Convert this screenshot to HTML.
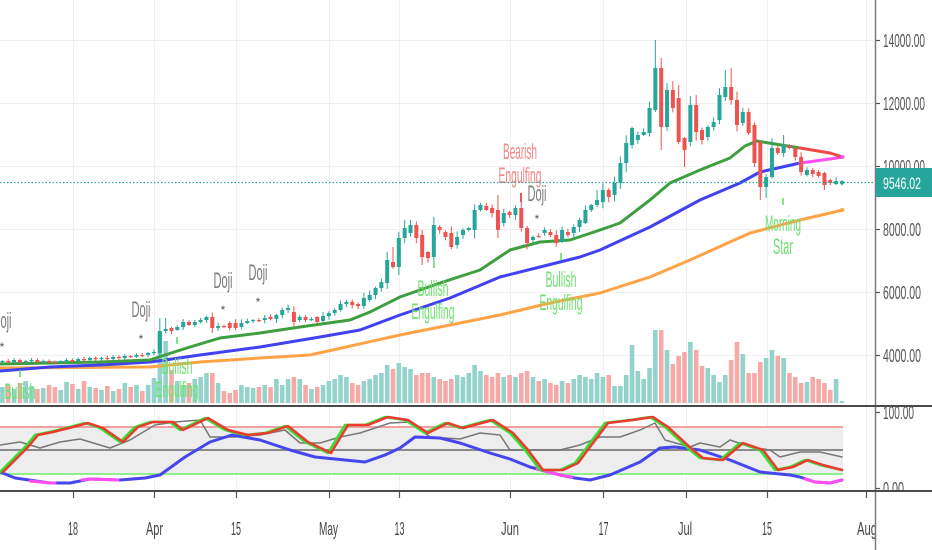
<!DOCTYPE html>
<html>
<head>
<meta charset="utf-8">
<style>
  html,body{margin:0;padding:0;background:#fff;}
  svg{display:block;}
  text{font-family:"Liberation Sans", Arial, sans-serif;}
</style>
</head>
<body>
<svg id="chart" xmlns="http://www.w3.org/2000/svg" width="932" height="550" viewBox="0 0 932 550">
  <defs>
    <clipPath id="cmain"><rect x="0" y="0" width="875" height="405"/></clipPath>
    <clipPath id="cind"><rect x="0" y="407" width="875" height="83"/></clipPath>
    <clipPath id="ciax"><rect x="876" y="407" width="56" height="83"/></clipPath>
    <clipPath id="ctax"><rect x="0" y="492" width="875" height="58"/></clipPath>
  </defs>
  <rect x="0" y="0" width="932" height="550" fill="#ffffff"/>

  <!-- grid -->
  <g stroke="#eef0f3" stroke-width="1">
    <line x1="0" y1="40.5" x2="875" y2="40.5"/>
    <line x1="0" y1="103.5" x2="875" y2="103.5"/>
    <line x1="0" y1="166.5" x2="875" y2="166.5"/>
    <line x1="0" y1="229.5" x2="875" y2="229.5"/>
    <line x1="0" y1="292.5" x2="875" y2="292.5"/>
    <line x1="0" y1="355.5" x2="875" y2="355.5"/>
    <line x1="73.5" y1="0" x2="73.5" y2="491"/>
    <line x1="154.5" y1="0" x2="154.5" y2="491"/>
    <line x1="236.5" y1="0" x2="236.5" y2="491"/>
    <line x1="329.5" y1="0" x2="329.5" y2="491"/>
    <line x1="399.5" y1="0" x2="399.5" y2="491"/>
    <line x1="510.5" y1="0" x2="510.5" y2="491"/>
    <line x1="603.5" y1="0" x2="603.5" y2="491"/>
    <line x1="686.5" y1="0" x2="686.5" y2="491"/>
    <line x1="767.5" y1="0" x2="767.5" y2="491"/>
    <line x1="866.5" y1="0" x2="866.5" y2="491"/>
  </g>

  <g clip-path="url(#cmain)">
    <!-- volume -->
    <g id="vol"></g>

    <!-- moving averages -->
    <g fill="none" stroke-width="3" stroke-linejoin="round" stroke-linecap="round">
      <polyline stroke="#ffa347" points="0,368 150,367 200,362 260,358 310,355 400,335 450,325 500,315 550,303 600,293 650,277 690,260 750,233 800,220 843,210"/>
      <polyline stroke="#4141f0" points="0,371 50,367 100,365 150,362 165,360 200,355 260,347 320,337 360,330 400,315 450,298 500,277 540,267 580,257 600,250 650,227 700,200 740,183 760,172 800,163"/>
      <polyline stroke="#ff4cf5" points="800,163 830,159 843,157"/>
      <polyline stroke="#3f9e3f" points="0,364 50,363 100,362 150,360 165,355 190,347 220,338 260,333 300,327 350,320 370,312 400,297 440,283 480,270 510,250 540,242 570,240 600,230 620,223 650,200 670,183 700,170 730,158 745,146 757,141 775,144 800,148"/>
      <polyline stroke="#f04848" points="800,148 830,153 843,157"/>
    </g>

    <!-- candles -->
    <g id="candles"></g>

    <!-- annotations -->
    <g font-size="22" text-anchor="middle" lengthAdjust="spacingAndGlyphs">
      <text x="2" y="328" fill="#7a7a7a" textLength="19" lengthAdjust="spacingAndGlyphs">Doji</text>
      <text x="141" y="317" fill="#7a7a7a" textLength="19" lengthAdjust="spacingAndGlyphs">Doji</text>
      <text x="223" y="288" fill="#7a7a7a" textLength="19" lengthAdjust="spacingAndGlyphs">Doji</text>
      <text x="258" y="280" fill="#7a7a7a" textLength="19" lengthAdjust="spacingAndGlyphs">Doji</text>
      <text x="537" y="201" fill="#7a7a7a" textLength="19" lengthAdjust="spacingAndGlyphs">Doji</text>

      <text x="520" y="159" fill="#f28585" textLength="34" lengthAdjust="spacingAndGlyphs">Bearish</text>
      <text x="520" y="183" fill="#f28585" textLength="43" lengthAdjust="spacingAndGlyphs">Engulfing</text>

      <text x="433" y="296" fill="#6ee06e" textLength="31" lengthAdjust="spacingAndGlyphs">Bullish</text>
      <text x="433" y="319" fill="#6ee06e" textLength="43" lengthAdjust="spacingAndGlyphs">Engulfing</text>

      <text x="561" y="287" fill="#6ee06e" textLength="31" lengthAdjust="spacingAndGlyphs">Bullish</text>
      <text x="561" y="310" fill="#6ee06e" textLength="43" lengthAdjust="spacingAndGlyphs">Engulfing</text>

      <text x="783" y="231" fill="#6ee06e" textLength="36" lengthAdjust="spacingAndGlyphs">Morning</text>
      <text x="783" y="254" fill="#6ee06e" textLength="20" lengthAdjust="spacingAndGlyphs">Star</text>

      <text x="177" y="374" fill="#6ee06e" textLength="31" lengthAdjust="spacingAndGlyphs">Bullish</text>
      <text x="177" y="397" fill="#6ee06e" textLength="43" lengthAdjust="spacingAndGlyphs">Engulfing</text>

      <text x="20" y="399" fill="#6ee06e" textLength="31" lengthAdjust="spacingAndGlyphs">Bullish</text>
    </g>

    <!-- markers -->
    <g font-size="12" fill="#555" text-anchor="middle">
      <text x="2" y="351">*</text>
      <text x="141" y="343">*</text>
      <text x="223" y="314">*</text>
      <text x="258" y="306">*</text>
      <text x="537" y="223">*</text>
    </g>
    <g stroke-width="1.5">
      <line x1="20" y1="370" x2="20" y2="377" stroke="#55dd55"/>
      <line x1="177" y1="337" x2="177" y2="344" stroke="#55dd55"/>
      <line x1="434" y1="261" x2="434" y2="268" stroke="#55dd55"/>
      <line x1="561" y1="253" x2="561" y2="260" stroke="#55dd55"/>
      <line x1="783" y1="198" x2="783" y2="205" stroke="#55dd55"/>
      <line x1="521" y1="193" x2="521" y2="202" stroke="#ef5350" stroke-width="2"/>
    </g>

    <!-- price line -->
    <line x1="0" y1="182.5" x2="875" y2="182.5" stroke="#26a69a" stroke-width="1.2" stroke-dasharray="1.5,2"/>
    <circle cx="842" cy="157" r="2" fill="#ff4cf5"/>
    <circle cx="842" cy="182.5" r="2" fill="#26a69a"/>
    <circle cx="842" cy="210" r="2" fill="#ffa347"/>
  </g>

  <!-- indicator panel -->
  <g clip-path="url(#cind)">
    <rect x="0" y="427" width="843" height="47" fill="#ededed"/>
    <line x1="0" y1="427" x2="843" y2="427" stroke="#f3a0a0" stroke-width="2"/>
    <line x1="0" y1="474" x2="843" y2="474" stroke="#8cf08c" stroke-width="2"/>
    <line x1="0" y1="450" x2="843" y2="450" stroke="#8a8a8a" stroke-width="2"/>
    <g fill="none" stroke-linejoin="round" stroke-linecap="round">
      <polyline stroke="#777777" stroke-width="1.5" points="0,445 20,442 40,448 60,442 80,439 110,448 130,440 155,425 175,422 200,420 210,437 235,437 260,435 285,430 300,443 320,443 340,437 360,433 390,423 410,422 430,437 460,439 480,433 500,435 510,450 560,450 580,445 600,437 620,437 640,430 655,423 665,440 690,447 700,443 720,447 730,440 750,447 770,450 780,457 800,452 820,452 842,457"/>
      <polyline stroke="#4646ee" stroke-width="3" points="0,472 15,478 50,483 70,483 90,479 120,480 145,478 160,475 185,457 210,442 232,435 260,440 290,450 315,457 335,459 365,462 385,455 400,448 415,437 440,438 460,443 490,453 510,459 530,467 560,475 575,478 590,480 610,475 640,462 660,448 675,447 700,450 730,460 760,472 790,475 800,477 815,482 830,483 842,480"/>
      <polyline stroke="#ff4cf5" stroke-width="3" points="30,481 50,483 55,483"/>
      <polyline stroke="#ff4cf5" stroke-width="3" points="82,480 90,479 118,480"/>
      <polyline stroke="#ff4cf5" stroke-width="3" points="537,469 560,475 572,477"/>
      <polyline stroke="#ff4cf5" stroke-width="3" points="805,479 815,482 830,483 842,480"/>
      <polyline stroke="#33e033" stroke-width="2.5" points="0,472 10,462 25,447 35,435 50,432 70,427 85,423 100,428 120,442 135,427 150,422 170,422 180,430 205,418 225,430 245,435 265,433 285,426 305,442 328,453 345,425 365,425 385,417 405,420 425,433 445,423 460,428 490,420 510,433 525,450 540,470 560,470 575,463 590,443 605,423 630,420 650,417 665,427 690,450 700,458 720,460 740,443 760,450 775,470 790,467 805,460 820,465 842,470"/>
      <polyline stroke="#ea3b2e" stroke-width="2.5" transform="translate(3,0)" points="0,472 10,462 25,447 35,435 50,432 70,427 85,423 100,428 120,442 135,427 150,422 170,422 180,430 205,418 225,430 245,435 265,433 285,426 305,442 328,453 345,425 365,425 385,417 405,420 425,433 445,423 460,428 490,420 510,433 525,450 540,470 560,470 575,463 590,443 605,423 630,420 650,417 665,427 690,450 700,458 720,460 740,443 760,450 775,470 790,467 805,460 820,465 839,470"/>
    </g>
  </g>

  <!-- axes lines -->
  <line x1="875.5" y1="0" x2="875.5" y2="550" stroke="#7a7a7a" stroke-width="1.5"/>
  <line x1="0" y1="406" x2="932" y2="406" stroke="#4a4a4a" stroke-width="2"/>
  <line x1="0" y1="491" x2="932" y2="491" stroke="#4a4a4a" stroke-width="2"/>

  <!-- price ticks -->
  <g stroke="#555" stroke-width="1.2">
    <line x1="876" y1="40.5" x2="880" y2="40.5"/>
    <line x1="876" y1="103.5" x2="880" y2="103.5"/>
    <line x1="876" y1="166.5" x2="880" y2="166.5"/>
    <line x1="876" y1="229.5" x2="880" y2="229.5"/>
    <line x1="876" y1="292.5" x2="880" y2="292.5"/>
    <line x1="876" y1="355.5" x2="880" y2="355.5"/>
    <line x1="876" y1="412.5" x2="880" y2="412.5"/>
    <line x1="876" y1="488.5" x2="880" y2="488.5"/>
  </g>

  <!-- price labels -->
  <g font-size="18" fill="#555555">
    <text x="883" y="47" textLength="42" lengthAdjust="spacingAndGlyphs">14000.00</text>
    <text x="883" y="110" textLength="42" lengthAdjust="spacingAndGlyphs">12000.00</text>
    <text x="883" y="173" textLength="42" lengthAdjust="spacingAndGlyphs">10000.00</text>
    <text x="883" y="236" textLength="38" lengthAdjust="spacingAndGlyphs">8000.00</text>
    <text x="883" y="299" textLength="38" lengthAdjust="spacingAndGlyphs">6000.00</text>
    <text x="883" y="362" textLength="38" lengthAdjust="spacingAndGlyphs">4000.00</text>
  </g>
  <rect x="876" y="168" width="56" height="29" fill="#26a69a"/>
  <text x="883" y="189" font-size="17" fill="#ffffff" textLength="38" lengthAdjust="spacingAndGlyphs">9546.02</text>

  <g clip-path="url(#ciax)" font-size="18" fill="#555555">
    <text x="883" y="419" textLength="31" lengthAdjust="spacingAndGlyphs">100.00</text>
    <text x="883" y="495" textLength="21" lengthAdjust="spacingAndGlyphs">0.00</text>
  </g>

  <!-- time ticks -->
  <g stroke="#555" stroke-width="1.2">
    <line x1="73.5" y1="492" x2="73.5" y2="498"/>
    <line x1="154.5" y1="492" x2="154.5" y2="498"/>
    <line x1="236.5" y1="492" x2="236.5" y2="498"/>
    <line x1="329.5" y1="492" x2="329.5" y2="498"/>
    <line x1="399.5" y1="492" x2="399.5" y2="498"/>
    <line x1="510.5" y1="492" x2="510.5" y2="498"/>
    <line x1="603.5" y1="492" x2="603.5" y2="498"/>
    <line x1="686.5" y1="492" x2="686.5" y2="498"/>
    <line x1="767.5" y1="492" x2="767.5" y2="498"/>
    <line x1="866.5" y1="492" x2="866.5" y2="498"/>
  </g>

  <!-- time labels -->
  <g clip-path="url(#ctax)" font-size="18" fill="#454545" text-anchor="middle">
    <text x="73" y="535" textLength="10" lengthAdjust="spacingAndGlyphs">18</text>
    <text x="154.5" y="535" textLength="17" lengthAdjust="spacingAndGlyphs">Apr</text>
    <text x="236" y="535" textLength="10" lengthAdjust="spacingAndGlyphs">15</text>
    <text x="328.5" y="535" textLength="19" lengthAdjust="spacingAndGlyphs">May</text>
    <text x="399.5" y="535" textLength="10" lengthAdjust="spacingAndGlyphs">13</text>
    <text x="510" y="535" textLength="18" lengthAdjust="spacingAndGlyphs">Jun</text>
    <text x="603.5" y="535" textLength="10" lengthAdjust="spacingAndGlyphs">17</text>
    <text x="685" y="535" textLength="14" lengthAdjust="spacingAndGlyphs">Jul</text>
    <text x="767" y="535" textLength="10" lengthAdjust="spacingAndGlyphs">15</text>
    <text x="867" y="535" textLength="20" lengthAdjust="spacingAndGlyphs">Aug</text>
  </g>
</svg>

<script>
(function(){
  var NS = "http://www.w3.org/2000/svg";
  var C = [
    [362,361],[361,362],[362,360],[360,362],[362,361],[361,360],[360,362],[362,361],[361,362],[362,362.5],
    [362,361],[361,360],[360,361],[361,359],[359,360],[360,358],[358,359],[359,358],[358,359],[359,357],
    [357,358],[358,356],[356,357],[357,355],[355,355.5],[355,353],
    [353,352],[353,331,318],[331,329,318],[328,331],[330,327],[327,322],[322,325],[325,322],[322,320],[320,317],
    [317,328],[328,326],[326,326.5],[323,328],[323,328],[327,323],[323,321],[321,320],[320,320.5],[320,318],
    [317,319],[319,315],[315,310],[310,308],[312,322],[320,317],[317,320],[320,319],[317,322],[321,316],
    [316,313],[313,310],[310,304],[304,302],[302,305],[304,306],[306,298],[300,295],[295,288],[288,282],
    [283,260,252],[262,267,247],[267,238],[238,228,220],[233,225,220],[225,238],[235,257,null,265],[252,258],[257,225],[227,230],
    [232,237],[233,247],[245,237],[235,230],[230,228],[230,210],[210,205],[206,210],[208,213],[210,230,195],
    [223,213],
    [212,215],[215,208],[208,228,193],[228,243],[240,237],[236,236.5],[233,230],[232,235],[235,243],[242,230],
    [232,235],[233,227],[227,220],[223,210],[210,205],[205,200,190],[202,190],[190,197],[195,183],[183,163],
    [163,143],[145,128],[140,135],[135,132],[133,108],[110,68,40,112],[68,127,58,150],[127,90],[90,108],[98,142,85],
    [138,150,null,167],[142,105],[105,132],[130,140],[137,127],[127,122],[120,95],[97,87,70],[87,100,68],[100,125],
    [123,112],[112,133],[125,163],[142,187,null,200],[187,177,null,198],[177,148],[148,153],[153,145,135],[145,148],[148,157],
    [157,172],[175,170],[170,174],[172,176],[173,185,null,190],[180,183],[184,181],[183,182]
  ];
  var V = [16,18,14,20,22,17,14,15,18,16,13,21,19,14,22,16,15,13,17,12,14,20,16,18,12,18,
    25,70,62,33,22,18,20,24,26,30,30,20,12,10,13,18,16,15,16,18,16,24,18,24,26,24,18,14,16,18,
    22,24,28,26,20,18,22,24,28,30,38,34,40,36,34,28,30,30,26,24,22,24,28,26,30,38,32,28,26,30,26,
    28,26,30,32,26,22,24,20,18,22,20,24,28,26,24,30,
    26,28,17,17,28,58,32,24,35,73,73,53,39,47,51,61,53,37,35,28,21,28,43,61,49,30,30,41,45,53,47,45,30,26,20,21,26,24,20,13,24,2];
  function rnd(i,s){var x=Math.sin(i*12.9898+s*78.233)*43758.5453;return x-Math.floor(x);}
  var gc=document.getElementById("candles"), gv=document.getElementById("vol");
  var UP="#26a69a", DN="#ef5350", UPV="#93d3cc", DNV="#f6aaa8";
  var vb=403;
  for(var i=0;i<C.length;i++){
    var d=C[i], o=d[0], c=d[1];
    var x=2.4+5.83*i;
    var up = c<=o;
    var top=Math.min(o,c), bot=Math.max(o,c);
    var body=bot-top;
    var k = i<26 ? 1.5 : Math.min(10, 2+body*0.35);
    var hi = (d[2]!=null)? d[2] : top-(0.8+rnd(i,1)*k);
    var lo = (d[3]!=null)? d[3] : bot+(0.8+rnd(i,2)*k);
    var col = up?UP:DN;
    // volume
    var h = V[i]||10;
    var vr=document.createElementNS(NS,"rect");
    vr.setAttribute("x",(x-2.3).toFixed(2));
    vr.setAttribute("y",(vb-h).toFixed(2));
    vr.setAttribute("width","4.6");
    vr.setAttribute("height",h);
    vr.setAttribute("fill",up?UPV:DNV);
    gv.appendChild(vr);
    // wick
    var w=document.createElementNS(NS,"line");
    w.setAttribute("x1",x.toFixed(2));w.setAttribute("x2",x.toFixed(2));
    w.setAttribute("y1",hi.toFixed(2));w.setAttribute("y2",lo.toFixed(2));
    w.setAttribute("stroke",col);w.setAttribute("stroke-width","1");
    gc.appendChild(w);
    // body
    var r=document.createElementNS(NS,"rect");
    r.setAttribute("x",(x-2).toFixed(2));
    r.setAttribute("y",top.toFixed(2));
    r.setAttribute("width","4");
    r.setAttribute("height",Math.max(1.2,body).toFixed(2));
    r.setAttribute("fill",col);
    gc.appendChild(r);
  }
})();
</script>
</body>
</html>
